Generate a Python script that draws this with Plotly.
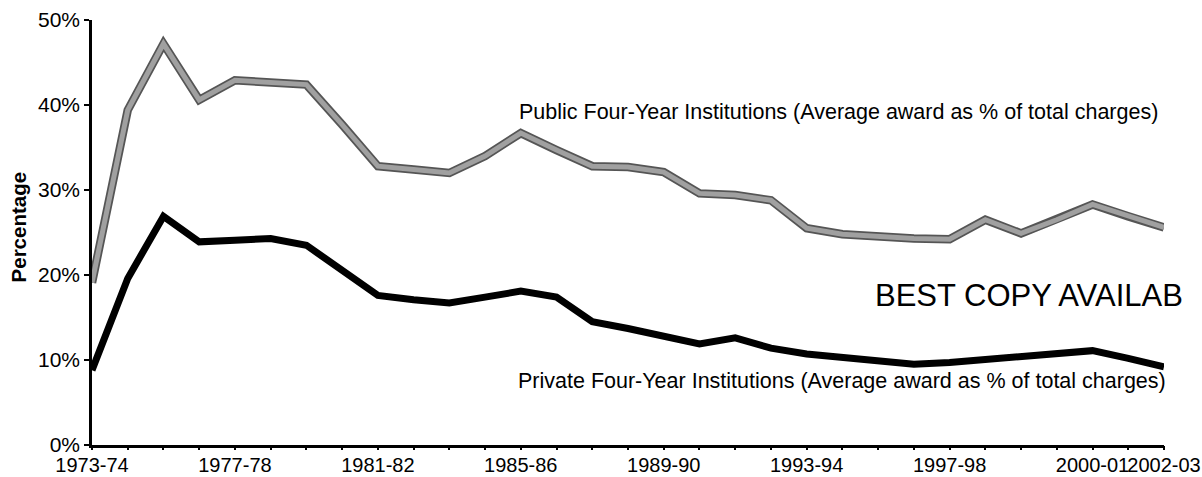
import plotly.graph_objects as go

# Average award as % of total charges, one value per academic year
public_pct = [19.1, 39.4, 47.2, 40.6, 42.9, 42.6, 42.4, 37.7, 32.8, 32.4,
              32.0, 34.0, 36.7, 34.7, 32.8, 32.7, 32.1, 29.6, 29.4, 28.8,
              25.5, 24.8, 24.5, 24.3, 24.2, 26.5, 24.9, 26.5, 28.3, 26.9,
              25.6]
private_pct = [8.8, 19.6, 26.9, 23.9, 24.1, 24.3, 23.5, 20.6, 17.6, 17.1,
               16.7, 17.4, 18.1, 17.4, 14.5, 13.7, 12.7, 11.9, 12.6, 11.4,
               10.7, 10.3, 9.9, 9.5, 9.7, 10.0, 10.4, 10.8, 11.1, 10.2,
               9.2]

# which category positions carry a year label
tick_pos = [0, 4, 8, 12, 16, 20, 24, 28, 30]
tick_names = ["1973-74", "1977-78", "1981-82", "1985-86", "1989-90",
              "1993-94", "1997-98", "2000-01", "2002-03"]
y_ticks = [0, 10, 20, 30, 40, 50]

x = list(range(len(public_pct)))
ticktext = [tick_names[tick_pos.index(i)] if i in tick_pos else "" for i in x]
y_ticktext = [f"{v}%" for v in y_ticks]

font = "Arial, Liberation Sans, sans-serif"

fig = go.Figure()

# public line: dark outline with a grey core to mimic the textured line
fig.add_trace(go.Scatter(x=x, y=public_pct, mode="lines",
                         line=dict(color="#555555", width=8.5), hoverinfo="skip"))
fig.add_trace(go.Scatter(x=x, y=public_pct, mode="lines", name="Public",
                         line=dict(color="#a0a0a0", width=5)))
# private line sits on the overlaid axis that carries the tick marks
fig.add_trace(go.Scatter(x=x, y=private_pct, mode="lines", name="Private",
                         xaxis="x2", yaxis="y",
                         line=dict(color="black", width=7)))

fig.update_layout(
    width=1202, height=477,
    margin=dict(l=92, r=38, t=20, b=32),
    paper_bgcolor="white", plot_bgcolor="white",
    showlegend=False,
    font=dict(family=font, color="black", size=21),
    # labels on the main axis (no tick marks so they sit close to the line)
    xaxis=dict(range=[0, len(x) - 1], tickvals=x, ticktext=ticktext,
               ticks="", tickangle=0, showline=True, linewidth=2.5,
               linecolor="black", showgrid=False, zeroline=False,
               tickfont=dict(size=20), ticklabeloverflow="allow",
               automargin=False),
    # short tick marks at every category
    xaxis2=dict(range=[0, len(x) - 1], tickvals=x, overlaying="x", anchor="y",
                side="bottom", ticks="outside", ticklen=4, tickwidth=2,
                tickcolor="black", showticklabels=False, showline=False,
                showgrid=False, zeroline=False, automargin=False),
    yaxis=dict(range=[0, 50], tickvals=y_ticks, ticktext=y_ticktext,
               ticks="outside", ticklen=5, tickwidth=2, tickcolor="black",
               showline=True, linewidth=2.5, linecolor="black",
               showgrid=False, zeroline=False, tickfont=dict(size=21),
               automargin=False),
    annotations=[
        dict(text="Public Four-Year Institutions (Average award as % of total charges)",
             x=29.9, y=39.2, xref="x", yref="y", xanchor="right", yanchor="middle",
             showarrow=False, font=dict(size=21.5)),
        dict(text="Private Four-Year Institutions (Average award as % of total charges)",
             x=1.0037, y=0.15, xref="paper", yref="paper", xanchor="right",
             yanchor="middle", showarrow=False, font=dict(size=21.5)),
        dict(text="BEST COPY AVAILAB",
             x=21.85, y=17.6, xref="x", yref="y", xanchor="left", yanchor="middle",
             showarrow=False, font=dict(size=31)),
        dict(text="<b>Percentage</b>", textangle=-90,
             x=-0.069, y=0.512, xref="paper", yref="paper",
             xanchor="center", yanchor="middle", showarrow=False,
             font=dict(size=20.5)),
    ],
)

# drop the browser's default page margin so the figure sits flush in the window
fig.write_html("out.html", config={"displayModeBar": False},
               post_script="document.body.style.margin='0';")
